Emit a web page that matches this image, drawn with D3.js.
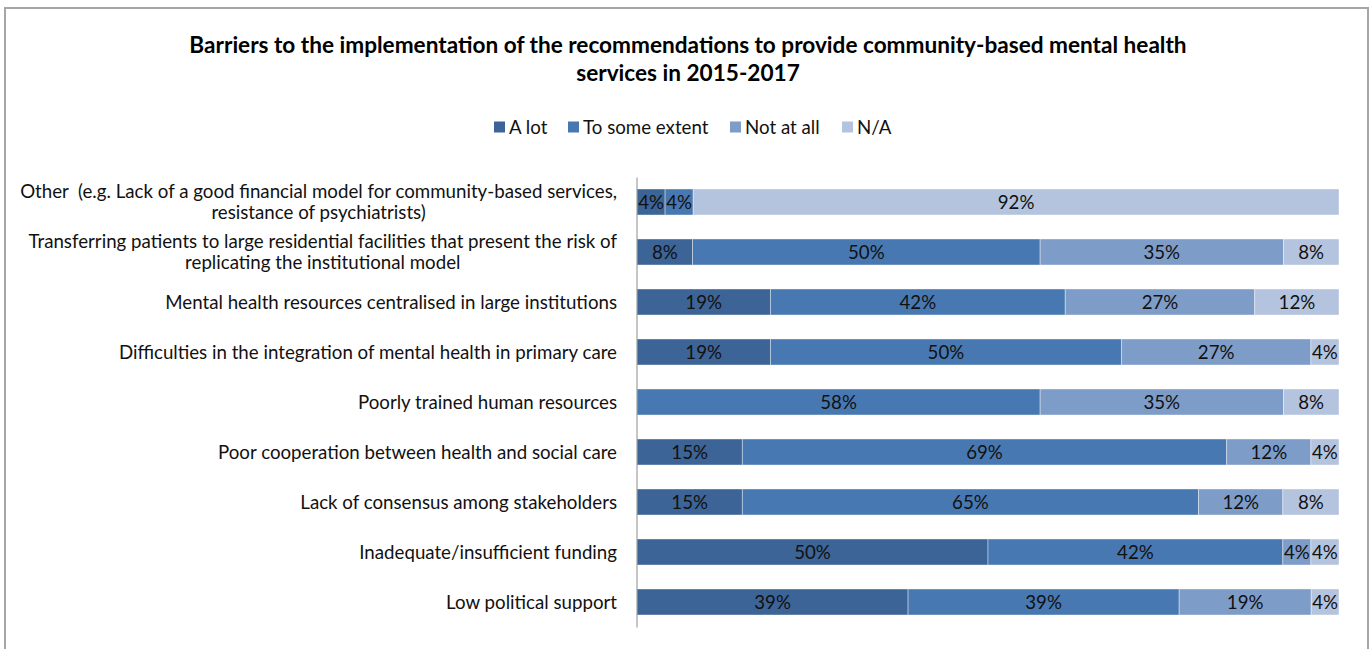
<!DOCTYPE html>
<html>
<head>
<meta charset="utf-8">
<script src="https://cdn.jsdelivr.net/npm/d3@7"></script>
<style>
  html, body { margin: 0; padding: 0; background: #fff; }
  svg { display: block; font-family: Lato, "Open Sans", sans-serif; }
  svg text { white-space: pre; }
</style>
</head>
<body>
<svg id="chart" width="1371" height="649"></svg>
<script>
// Barrier categories, top to bottom (each entry is the list of wrapped lines)
const categories = [
  ["Other  (e.g. Lack of a good financial model for community-based services,", "resistance of psychiatrists)"],
  ["Transferring patients to large residential facilities that present the risk of", "replicating the institutional model"],
  ["Mental health resources centralised in large institutions"],
  ["Difficulties in the integration of mental health in primary care"],
  ["Poorly trained human resources"],
  ["Poor cooperation between health and social care"],
  ["Lack of consensus among stakeholders"],
  ["Inadequate/insufficient funding"],
  ["Low political support"]
];

// Share of responses (%) per answer
const aLot          = [4, 8, 19, 19, 0, 15, 15, 50, 39];
const toSomeExtent  = [4, 50, 42, 50, 58, 69, 65, 42, 39];
const notAtAll      = [0, 35, 27, 27, 35, 12, 12, 4, 19];
const notApplicable = [92, 8, 12, 4, 8, 4, 8, 4, 4];

const seriesNames = ["A lot", "To some extent", "Not at all", "N/A"];
const seriesColors = ["#3c6496", "#4878b1", "#7e9cc8", "#b4c4de"];

const titleLines = [
  "Barriers to the implementation of the recommendations to provide community-based mental health",
  "services in 2015-2017"
];

const svg = d3.select("#chart");
const W = 1371, H = 649;
const fontSize = 18.7;

// outer frame
svg.append("rect")
  .attr("x", 5).attr("y", 8)
  .attr("width", 1363).attr("height", H + 10)
  .attr("fill", "#fff")
  .attr("stroke", "#a6a6a6")
  .attr("stroke-width", 2);

// title
svg.append("g").selectAll("text")
  .data(titleLines)
  .join("text")
  .attr("x", 688)
  .attr("y", (d, i) => 53 + i * 28)
  .attr("text-anchor", "middle")
  .attr("font-weight", "bold")
  .attr("font-size", 22.6)
  .attr("fill", "#000")
  .text(d => d);

// rows as objects for stacking
const rows = categories.map((c, i) => ({
  key: i,
  "A lot": aLot[i],
  "To some extent": toSomeExtent[i],
  "Not at all": notAtAll[i],
  "N/A": notApplicable[i]
}));

const stack = d3.stack().keys(seriesNames).offset(d3.stackOffsetExpand);
const stacked = stack(rows);

const plot = { left: 637, right: 1339, top: 177, bottom: 627 };

const x = d3.scaleLinear().domain([0, 1]).range([plot.left, plot.right]);
const y = d3.scaleBand()
  .domain(d3.range(categories.length))
  .range([plot.top, plot.bottom])
  .paddingInner(0.48)
  .paddingOuter(0.24);
const color = d3.scaleOrdinal().domain(seriesNames).range(seriesColors);

// bars
const layers = svg.append("g")
  .selectAll("g")
  .data(stacked)
  .join("g")
  .attr("fill", d => color(d.key));

layers.selectAll("rect")
  .data(d => d.map(p => ({ p, key: d.key })))
  .join("rect")
  .attr("x", d => x(d.p[0]))
  .attr("y", d => y(d.p.data.key))
  .attr("width", d => Math.max(0, x(d.p[1]) - x(d.p[0])))
  .attr("height", y.bandwidth())
  .attr("stroke", "#fff")
  .attr("stroke-opacity", 0.5)
  .attr("stroke-width", 0.8);

// value labels
layers.selectAll("text")
  .data(d => d.map(p => ({ p, key: d.key })).filter(d => d.p.data[d.key] > 0))
  .join("text")
  .attr("x", d => (x(d.p[0]) + x(d.p[1])) / 2)
  .attr("y", d => y(d.p.data.key) + y.bandwidth() / 2)
  .attr("dy", "0.36em")
  .attr("text-anchor", "middle")
  .attr("font-size", fontSize)
  .attr("fill", "#111")
  .text(d => d.p.data[d.key] + "%");

// vertical category axis
const axis = svg.append("g")
  .attr("transform", `translate(${plot.left - 0.5},0)`)
  .call(d3.axisLeft(y).tickSize(0).tickFormat(""));
axis.select(".domain").attr("stroke", "#8c8c8c").attr("stroke-width", 1);

// category labels (wrapped lines centred on each other, right-aligned block)
const labelRight = 617;
const lineH = 21;
const catG = svg.append("g");
categories.forEach((lines, i) => {
  const cy = y(i) + y.bandwidth() / 2;
  const g = catG.append("g");
  const texts = g.selectAll("text")
    .data(lines)
    .join("text")
    .attr("font-size", fontSize)
    .attr("fill", "#111")
    .attr("text-anchor", "middle")
    .attr("y", (d, j) => cy + (j - (lines.length - 1) / 2) * lineH)
    .attr("dy", "0.36em")
    .text(d => d);
  let maxW = 0;
  texts.each(function () { maxW = Math.max(maxW, this.getComputedTextLength()); });
  texts.attr("x", labelRight - maxW / 2);
});

// legend
const legendX = [494, 568, 730, 842];
const legend = svg.append("g")
  .selectAll("g")
  .data(seriesNames)
  .join("g")
  .attr("transform", (d, i) => `translate(${legendX[i]},127)`);
legend.append("rect")
  .attr("x", 0).attr("y", -5.5)
  .attr("width", 11).attr("height", 11)
  .attr("fill", d => color(d));
legend.append("text")
  .attr("x", 15)
  .attr("dy", "0.36em")
  .attr("font-size", fontSize)
  .attr("fill", "#111")
  .text(d => d);
</script>
</body>
</html>
